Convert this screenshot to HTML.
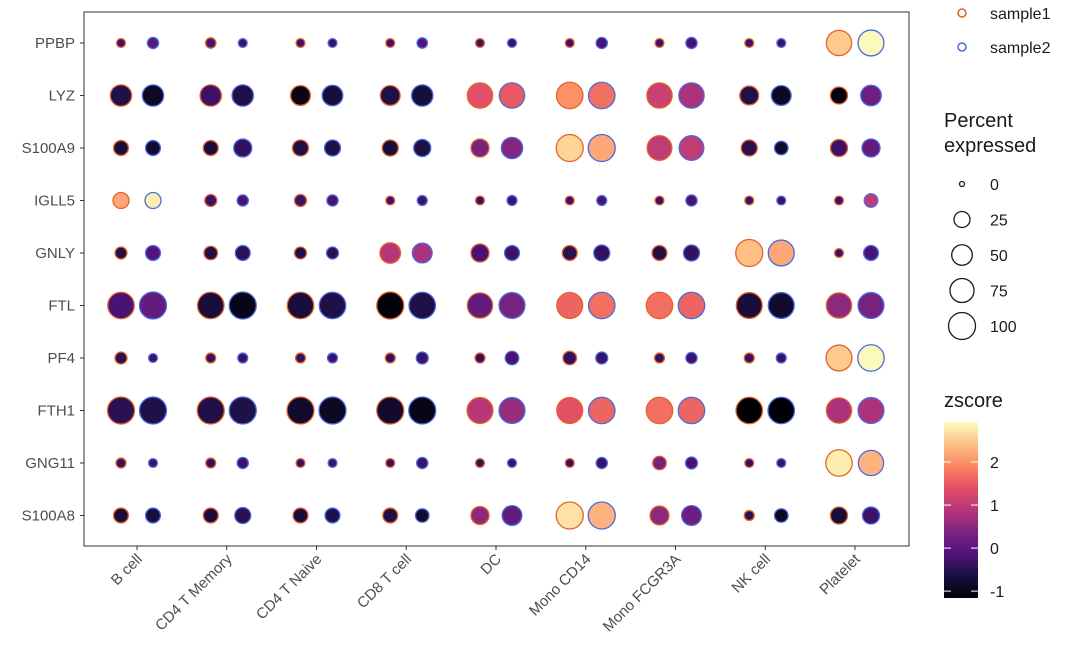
<!DOCTYPE html>
<html><head><meta charset="utf-8"><style>
body{margin:0;background:#fff;font-family:"Liberation Sans",sans-serif}
svg text{font-family:"Liberation Sans",sans-serif}
</style></head><body>
<svg id="c" width="1080" height="667" xmlns="http://www.w3.org/2000/svg">
<defs><linearGradient id="mg" x1="0" y1="1" x2="0" y2="0">
<stop offset="0" stop-color="#000004"/><stop offset="0.13" stop-color="#1c1044"/><stop offset="0.25" stop-color="#4f127b"/><stop offset="0.38" stop-color="#812581"/><stop offset="0.5" stop-color="#b5367a"/><stop offset="0.63" stop-color="#e55064"/><stop offset="0.75" stop-color="#fb8761"/><stop offset="0.88" stop-color="#fec287"/><stop offset="1" stop-color="#fcfdbf"/></linearGradient></defs>
<rect x="84" y="12" width="825" height="534" fill="#fff" stroke="#333" stroke-width="1"/>
<g id="marks"></g><g id="axes"></g>
<g>
<circle cx="962" cy="13" r="4" fill="none" stroke="#e3632b" stroke-width="1.5"/>
<text x="990" y="19" font-size="16" fill="#1a1a1a">sample1</text>
<circle cx="962" cy="47" r="4" fill="none" stroke="#4a6bdf" stroke-width="1.5"/>
<text x="990" y="53" font-size="16" fill="#1a1a1a">sample2</text>
</g>
<text x="944" y="127" font-size="20" fill="#1a1a1a">Percent</text>
<text x="944" y="152" font-size="20" fill="#1a1a1a">expressed</text>
<g id="sizeleg"></g>
<text x="944" y="407" font-size="20" fill="#1a1a1a">zscore</text>
<rect x="944" y="422" width="34" height="176" fill="url(#mg)"/>
<g id="cbticks"></g>
</svg>
<script>
const genes=["PPBP","LYZ","S100A9","IGLL5","GNLY","FTL","PF4","FTH1","GNG11","S100A8"];
const cells=["B cell","CD4 T Memory","CD4 T Naive","CD8 T cell","DC","Mono CD14","Mono FCGR3A","NK cell","Platelet"];
const pct=[
[3,8,6,3,3,3,3,6,3,3,3,8,3,8,3,3,85,90],
[55,55,55,55,45,50,45,55,85,85,95,95,85,85,40,45,30,50],
[20,20,20,35,25,25,25,30,35,55,100,100,80,80,25,15,30,35],
[25,25,10,8,10,8,3,5,3,5,3,5,3,8,3,3,3,15],
[10,20,15,20,10,10,50,45,35,20,20,25,20,25,100,90,3,20],
[95,100,95,100,95,95,100,95,85,90,90,95,95,95,90,90,85,90],
[10,3,5,5,5,5,5,10,5,15,15,10,5,8,5,5,90,95],
[100,100,100,100,100,100,100,100,90,90,90,95,95,95,95,95,85,90],
[5,3,5,8,3,3,3,8,3,3,3,8,15,10,3,3,95,85],
[20,20,20,25,20,20,20,15,35,45,100,100,40,45,5,15,30,30]];
const zs=[
[-0.3,0,-0.2,-0.3,-0.3,-0.3,-0.3,-0.1,-0.3,-0.3,-0.3,-0.2,-0.3,-0.2,-0.3,-0.3,2.5,2.9],
[-0.6,-0.9,-0.3,-0.6,-1.0,-0.7,-0.6,-0.7,1.4,1.5,2.0,1.7,1.1,0.8,-0.6,-0.9,-1.1,0.2],
[-0.7,-0.8,-0.7,-0.4,-0.6,-0.6,-0.7,-0.6,0.3,0.4,2.6,2.2,1.0,1.0,-0.5,-0.8,-0.3,0.1],
[2.2,2.8,-0.3,-0.2,-0.3,-0.2,-0.3,-0.3,-0.3,-0.3,-0.3,-0.2,-0.3,-0.2,-0.3,-0.3,-0.3,1.0],
[-0.6,-0.1,-0.6,-0.5,-0.6,-0.5,0.9,0.8,-0.2,-0.3,-0.5,-0.4,-0.6,-0.4,2.4,2.2,-0.3,-0.2],
[-0.2,0.1,-0.7,-1.0,-0.7,-0.6,-1.1,-0.6,0.1,0.3,1.6,1.7,1.7,1.6,-0.7,-0.8,0.5,0.3],
[-0.5,-0.3,-0.4,-0.3,-0.4,-0.3,-0.4,-0.3,-0.4,-0.2,-0.4,-0.3,-0.4,-0.3,-0.4,-0.3,2.5,2.9],
[-0.5,-0.6,-0.6,-0.6,-0.8,-0.9,-0.8,-1.0,0.9,0.6,1.4,1.6,1.7,1.6,-1.2,-1.2,0.8,0.8],
[-0.4,-0.3,-0.4,-0.3,-0.4,-0.3,-0.4,-0.3,-0.4,-0.3,-0.4,-0.3,0.3,-0.2,-0.4,-0.3,2.8,2.3],
[-0.7,-0.7,-0.7,-0.5,-0.7,-0.6,-0.6,-0.8,0.5,0.1,2.7,2.3,0.5,0.2,-0.5,-0.9,-0.7,-0.3]];
const sizeTicks=[0,25,50,75,100];
const zTicks=[-1,0,1,2];
const NS="http://www.w3.org/2000/svg";
const xC=i=>137+i*89.75, yG=j=>43+j*52.5, rS=p=>2.5+11*Math.sqrt(p/100);
const zMin=-1.16,zMax=2.93;
const stops=[[0,"#000004"],[0.13,"#1c1044"],[0.25,"#4f127b"],[0.38,"#812581"],[0.5,"#b5367a"],[0.63,"#e55064"],[0.75,"#fb8761"],[0.88,"#fec287"],[1,"#fcfdbf"]];
function hx(h){return [1,3,5].map(k=>parseInt(h.substr(k,2),16));}
function col(z){let t=Math.max(0,Math.min(1,(z-zMin)/(zMax-zMin)));for(let k=1;k<stops.length;k++){if(t<=stops[k][0]){const[a,ca]=stops[k-1],[b,cb]=stops[k];const u=(t-a)/(b-a);const A=hx(ca),B=hx(cb);return "rgb("+A.map((v,q)=>Math.round(v+(B[q]-v)*u)).join(",")+")";}}return stops[8][1];}
function mk(tag,at,par){const e=document.createElementNS(NS,tag);for(const k in at)e.setAttribute(k,at[k]);par.appendChild(e);return e;}
const marks=document.getElementById("marks"),axes=document.getElementById("axes");
genes.forEach((g,j)=>{cells.forEach((c,i)=>{[0,1].forEach(s=>{
 const k=i*2+s;
 const e=mk("circle",{cx:xC(i)+(s?16:-16),cy:yG(j),r:rS(pct[j][k]),fill:col(zs[j][k]),stroke:s?"#4a6bdf":"#e3632b","stroke-width":1.3},marks);
 
 
});});
 const t=mk("text",{x:75,y:yG(j)+5,"text-anchor":"end","font-size":15,fill:"#4d4d4d"},axes);t.textContent=g;
 
 
 const tk=mk("line",{x1:80,x2:84,y1:yG(j),y2:yG(j),stroke:"#333"},axes);
 
 
});
cells.forEach((c,i)=>{
 const tk=mk("line",{x1:xC(i),x2:xC(i),y1:546,y2:550,stroke:"#333"},axes);
 
 
 const x=xC(i)+6,y=560;
 const t=mk("text",{x:x,y:y,"text-anchor":"end","font-size":15,fill:"#4d4d4d",transform:"rotate(-45 "+x+" "+y+")"},axes);t.textContent=c;
 
 
});
const sl=document.getElementById("sizeleg");
sizeTicks.forEach((p,k)=>{const y=184+k*35.5;
 const e=mk("circle",{cx:962,cy:y,r:rS(p),fill:"none",stroke:"#1a1a1a","stroke-width":1.3},sl);
 
 
 const t=mk("text",{x:990,y:y+6,"font-size":16,fill:"#1a1a1a"},sl);t.textContent=p;
 
 
});
const cb=document.getElementById("cbticks");
zTicks.forEach(z=>{const y=598-(z-zMin)/(zMax-zMin)*176;
 mk("line",{x1:944,x2:951,y1:y,y2:y,stroke:"#fff"},cb);mk("line",{x1:971,x2:978,y1:y,y2:y,stroke:"#fff"},cb);
 const t=mk("text",{x:990,y:y+6,"font-size":16,fill:"#1a1a1a"},cb);t.textContent=z;
 
 
});
</script>
</body></html>
